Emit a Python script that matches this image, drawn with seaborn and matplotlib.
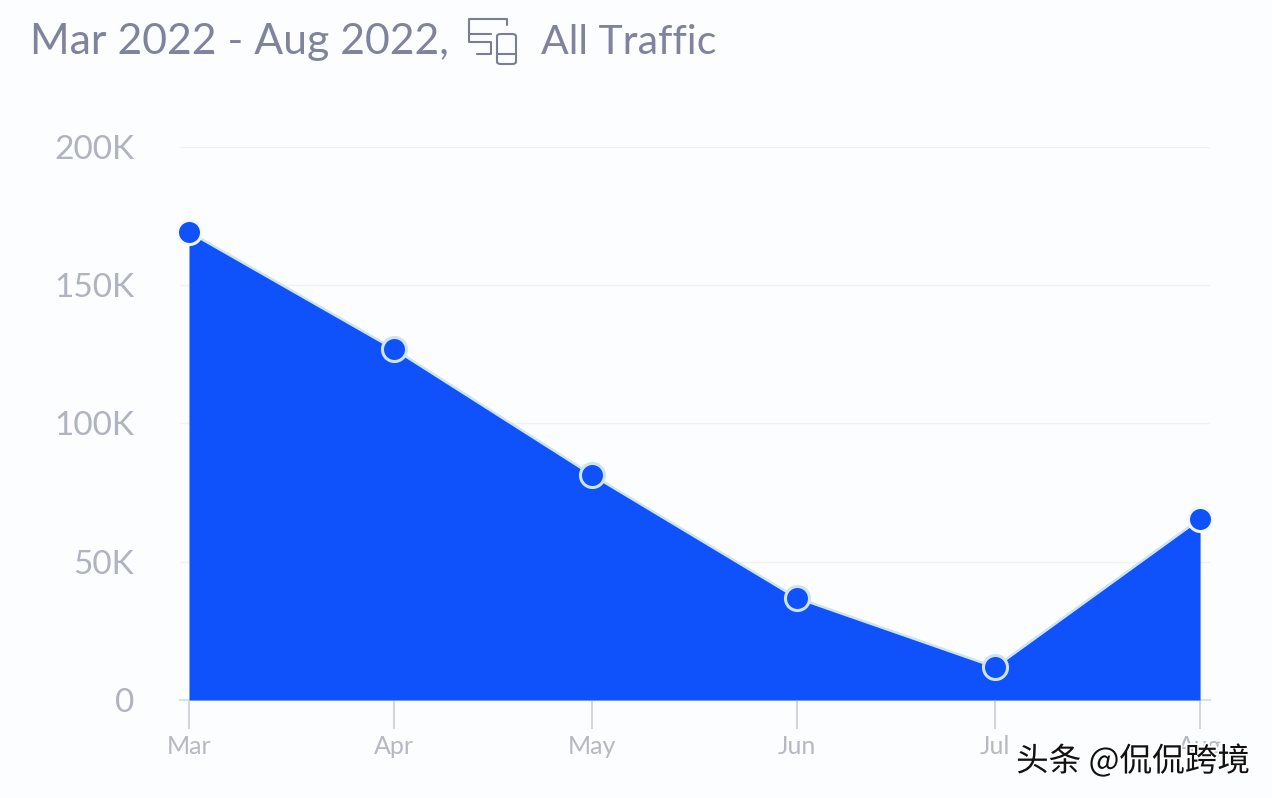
import matplotlib
matplotlib.use('Agg')
import matplotlib.pyplot as plt
import seaborn as sns
import pandas as pd
from matplotlib.lines import Line2D
from matplotlib.patches import FancyBboxPatch
import matplotlib.patheffects as pe

months = ['Mar', 'Apr', 'May', 'Jun', 'Jul', 'Aug']
dates = ['2022-03-01', '2022-04-01', '2022-05-01', '2022-06-01', '2022-07-01', '2022-08-01']
visits = [169300, 127000, 81400, 36900, 11900, 65500]
y_ticks = [0, 50000, 100000, 150000, 200000]
y_labels = ['0', '50K', '100K', '150K', '200K']

df = pd.DataFrame({'date': pd.to_datetime(dates), 'visits': visits})

blue = '#0F52FB'
bg = '#FBFDFE'
ring = '#CFE4EE'
W, H = 1272, 798

sns.set_theme(style='white')
plt.rcParams['font.family'] = ['Lato', 'DejaVu Sans']

fig = plt.figure(figsize=(12.72, 7.98), dpi=100, facecolor=bg)
ax = fig.add_axes([180 / W, 1 - 700 / H, (1210 - 180) / W, (700 - 147) / H], facecolor=bg)

# area first, then the line and markers on top
ax.fill_between(df['date'], df['visits'], 0, color=blue, lw=0, zorder=3)
sns.lineplot(data=df, x='date', y='visits', ax=ax, color=ring, lw=1.8, zorder=4)
# inner points have the pale ring, the two end ones sit on the background
sns.scatterplot(data=df.iloc[1:5], x='date', y='visits', ax=ax, s=300, color=blue,
                edgecolor=ring, linewidth=2.2, zorder=5, clip_on=False)
sns.scatterplot(data=df.iloc[[0, 5]], x='date', y='visits', ax=ax, s=300, color=blue,
                edgecolor='#F2F8FC', linewidth=2.2, zorder=5, clip_on=False)

# 6.6 px per day, so the axes run 9 px left of Mar and 10 px right of Aug
ax.set_xlim(pd.Timestamp('2022-03-01') - pd.Timedelta(days=1.36),
            pd.Timestamp('2022-08-01') + pd.Timedelta(days=1.5))
ax.set_ylim(0, 200000)
ax.set_xlabel('')
ax.set_ylabel('')

ax.set_yticks(y_ticks)
ax.set_yticklabels(y_labels, fontsize=24, color='#B0B3C0')
ax.set_xticks(df['date'])
ax.set_xticklabels(months, fontsize=18, color='#B6B8C3')
ax.tick_params(axis='y', length=0, pad=33)
ax.tick_params(axis='x', bottom=True, length=21, width=1.1, color='#C6C9D2', pad=4, direction='out')

ax.grid(axis='y', color='#EFF2F5', lw=1)
ax.set_axisbelow(True)
for side in ['top', 'right', 'left']:
    ax.spines[side].set_visible(False)
ax.spines['bottom'].set_color('#D5E2F2')
ax.spines['bottom'].set_linewidth(1.5)

title_c = '#7F839E'
fig.text(30 / W, 1 - 54 / H, 'Mar 2022 - Aug 2022,', fontsize=30.8, color=title_c,
         ha='left', va='baseline')
fig.text(541 / W, 1 - 54 / H, 'All Traffic', fontsize=29.5, color=title_c,
         ha='left', va='baseline')

# devices icon in the title
icon_c = '#7A7E94'


def seg(xs, ys):
    fig.add_artist(Line2D([x / W for x in xs], [1 - y / H for y in ys], color=icon_c, lw=1.5))


seg([507, 507, 469, 469, 491, 491, 477], [25, 19, 19, 42, 42, 54, 54])
seg([469, 491], [34, 34])
phone = FancyBboxPatch((497 / W, 1 - 64 / H), 19 / W, 30 / H, transform=fig.transFigure,
                       boxstyle='round,pad=0,rounding_size=0.003', fill=False,
                       ec=icon_c, lw=1.5)
fig.add_artist(phone)
seg([497, 516], [54, 54])

# watermark over the chart
fig.text(1016 / W, 1 - 771 / H, '头条 @侃侃跨境', fontsize=23.5,
         family=['Noto Sans CJK SC', 'DejaVu Sans'], color='#111111', ha='left', va='baseline',
         zorder=20, path_effects=[pe.withStroke(linewidth=2.5, foreground='white')])

fig.savefig('out.png', dpi=100, facecolor=bg)
